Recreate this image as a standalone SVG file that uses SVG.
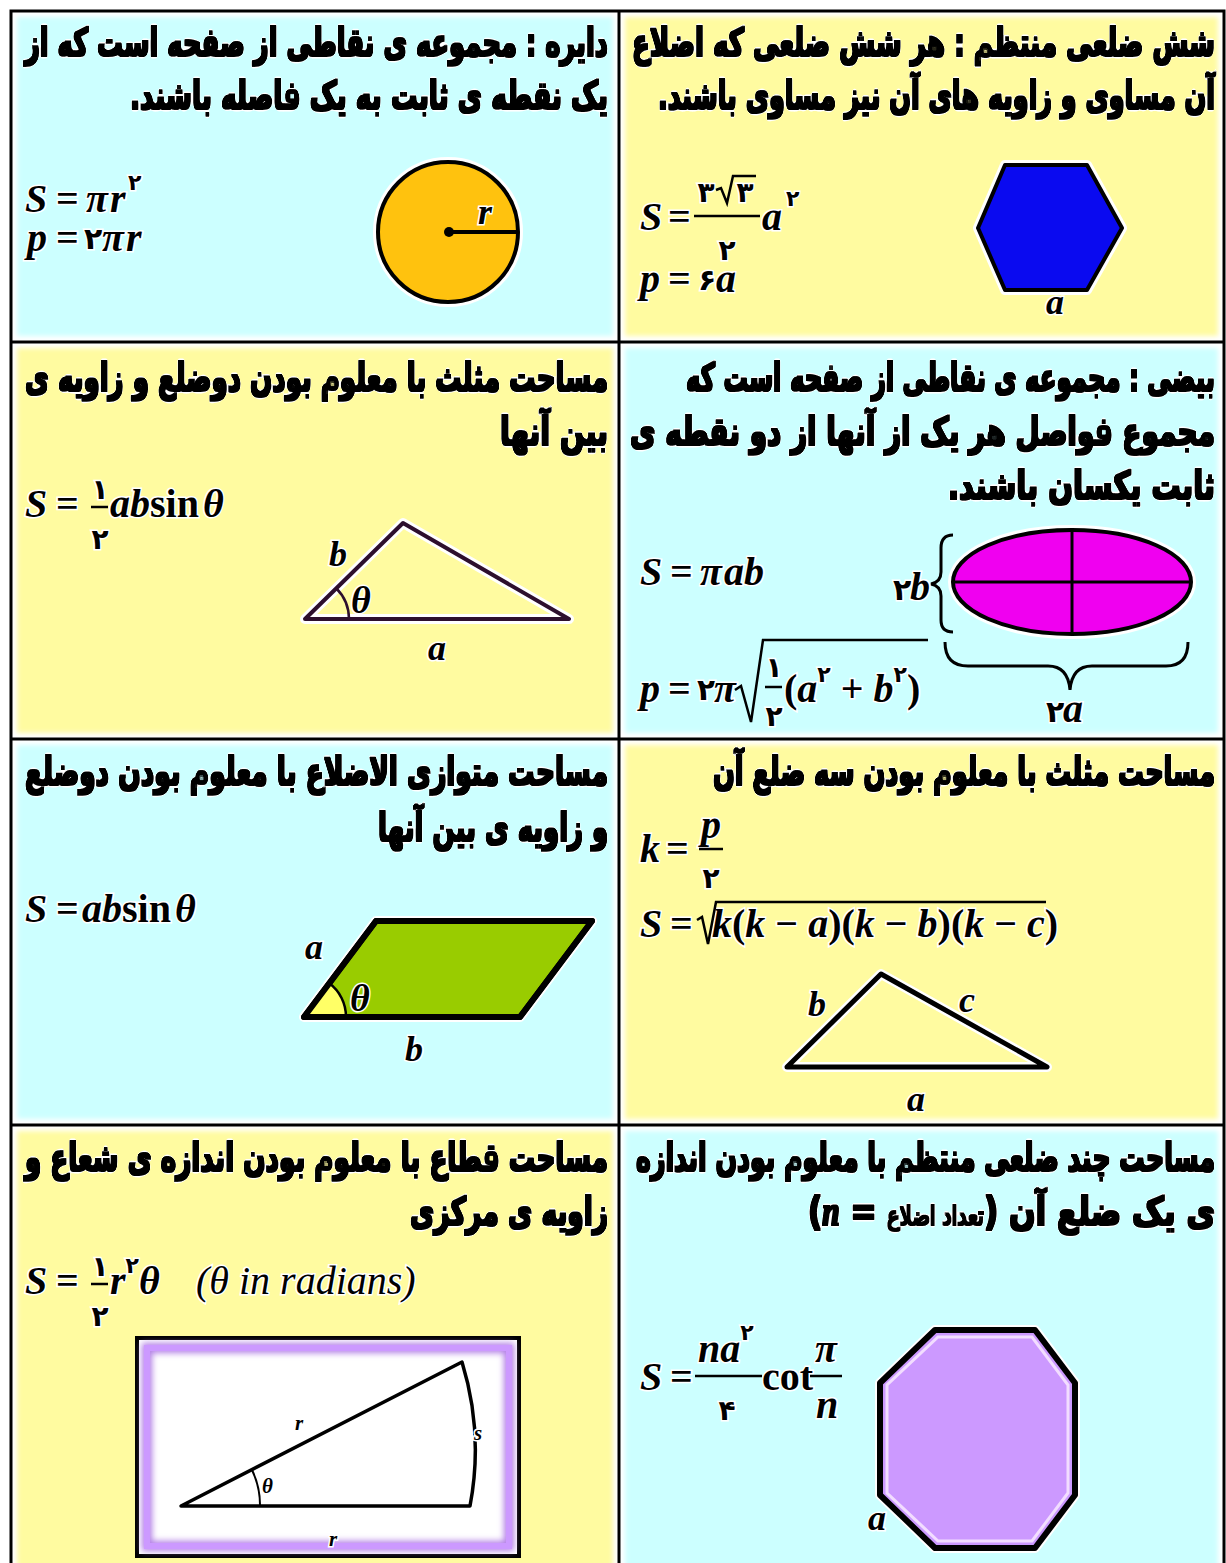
<svg xmlns="http://www.w3.org/2000/svg" width="1226" height="1563" viewBox="0 0 1226 1563">
<defs>
<filter id="soft" x="-5%" y="-5%" width="110%" height="110%"><feGaussianBlur stdDeviation="2.5"/></filter>
<filter id="glow" x="-10%" y="-10%" width="120%" height="120%"><feGaussianBlur stdDeviation="3"/></filter>
<filter id="heavy" x="-5%" y="-30%" width="110%" height="160%"><feMorphology operator="erode" radius="0.8"/></filter>
<style>
.cy{fill:#CCFFFF}
.ye{fill:#FFFBA0}
.t{font-family:"DejaVu Sans",sans-serif;font-weight:bold;font-size:39px;fill:#000;stroke:#fff;stroke-width:7;paint-order:stroke;stroke-linejoin:round;filter:url(#heavy)}
.m{font-family:"Liberation Serif","DejaVu Sans",serif;font-style:italic;font-weight:bold;font-size:40px;fill:#000;stroke:#fff;stroke-width:3;paint-order:stroke}
.lb{font-size:36px}
.th{font-size:38px}
.u{font-style:normal}
.d{font-family:"DejaVu Sans",sans-serif;font-style:normal;font-weight:bold;font-size:28px;text-anchor:middle}
.sp{font-family:"DejaVu Sans",sans-serif;font-style:normal;font-weight:bold;font-size:22px}
.dg{font-family:"DejaVu Sans",sans-serif;font-style:normal;font-weight:bold;font-size:30px}
.tiny{font-size:21px}
.ln{fill:none;stroke:#000;stroke-width:2.5}
.sh{stroke:#000;stroke-linejoin:round}
.halo{fill:none;stroke:#fff;stroke-width:10;stroke-linejoin:round}
.grid{fill:none;stroke:#000;stroke-width:3}
</style>
</defs>
<rect width="1226" height="1563" fill="#fff"/>
<g id="backgrounds" filter="url(#soft)">
<rect class="cy" x="17" y="17" width="596" height="319"/>
<rect class="ye" x="625" y="17" width="593" height="319"/>
<rect class="ye" x="17" y="348" width="596" height="385"/>
<rect class="cy" x="625" y="348" width="593" height="385"/>
<rect class="cy" x="17" y="745" width="596" height="374"/>
<rect class="ye" x="625" y="745" width="593" height="374"/>
<rect class="ye" x="17" y="1131" width="596" height="440"/>
<rect class="cy" x="625" y="1131" width="593" height="440"/>
</g>
<g id="grid">
<rect class="grid" x="11" y="11" width="1213" height="1570"/>
<line class="grid" x1="619" y1="11" x2="619" y2="1563"/>
<line class="grid" x1="11" y1="342" x2="1224" y2="342"/>
<line class="grid" x1="11" y1="739" x2="1224" y2="739"/>
<line class="grid" x1="11" y1="1125" x2="1224" y2="1125"/>
</g>

<g id="circle-cell">
<text class="t" x="608" y="56" direction="rtl" textLength="583" lengthAdjust="spacingAndGlyphs">دایره : مجموعه ی نقاطی از صفحه است که از</text>
<text class="t" x="608" y="109" direction="rtl" textLength="478" lengthAdjust="spacingAndGlyphs">یک نقطه ی ثابت به یک فاصله باشند.</text>
<text class="m" y="212"><tspan x="25">S</tspan><tspan class="u" x="56">=</tspan><tspan x="86">π</tspan><tspan x="110">r</tspan><tspan class="sp" x="128" y="190">۲</tspan></text>
<text class="m" y="251"><tspan x="27">p</tspan><tspan class="u" x="56">=</tspan><tspan class="dg" x="84" y="249">۲</tspan><tspan x="102" y="251">π</tspan><tspan x="126">r</tspan></text>
<circle cx="448" cy="232" r="70" class="halo"/>
<circle cx="448" cy="232" r="70" class="sh" fill="#FFC20E" stroke-width="4"/>
<line x1="448" y1="232" x2="518" y2="232" stroke="#000" stroke-width="4"/>
<circle cx="449" cy="232" r="5" fill="#000"/>
<text class="m lb" x="478" y="224">r</text>
</g>

<g id="hexagon-cell">
<text class="t" x="1215" y="56" direction="rtl" textLength="583" lengthAdjust="spacingAndGlyphs">شش ضلعی منتظم : هر شش ضلعی که اضلاع</text>
<text class="t" x="1215" y="109" direction="rtl" textLength="557" lengthAdjust="spacingAndGlyphs">آن مساوی و زاویه های آن نیز مساوی باشند.</text>
<text class="m" y="230"><tspan x="640">S</tspan><tspan class="u" x="668">=</tspan><tspan x="762">a</tspan><tspan class="sp" x="786" y="206">۲</tspan></text>
<text class="m d" x="706" y="202">۳</text>
<path class="ln" d="M716 190 L721 188 L727 203 L733 176 L756 176"/>
<text class="m d" x="745" y="202">۳</text>
<line x1="694" y1="216" x2="760" y2="216" stroke="#000" stroke-width="2.5"/>
<text class="m d" x="727" y="260">۲</text>
<text class="m" y="292"><tspan x="640">p</tspan><tspan class="u" x="668">=</tspan><tspan class="dg" x="698" y="290">۶</tspan><tspan x="716" y="292">a</tspan></text>
<polygon class="halo" points="1005,165 1087,165 1122,228 1087,290 1005,290 978,228"/>
<polygon class="sh" points="1005,165 1087,165 1122,228 1087,290 1005,290 978,228" fill="#0A0AF0" stroke-width="4"/>
<text class="m lb" x="1046" y="314">a</text>
</g>

<g id="triangle-two-sides-cell">
<text class="t" x="608" y="391" direction="rtl" textLength="583" lengthAdjust="spacingAndGlyphs">مساحت مثلث با معلوم بودن دوضلع و زاویه ی</text>
<text class="t" x="608" y="445" direction="rtl" textLength="108" lengthAdjust="spacingAndGlyphs">بین آنها</text>
<text class="m" y="517"><tspan x="25">S</tspan><tspan class="u" x="56">=</tspan><tspan x="110">ab</tspan><tspan class="u">sin</tspan><tspan dx="4">θ</tspan></text>
<text class="m d" x="100" y="499">۱</text>
<line x1="91" y1="507" x2="108" y2="507" stroke="#000" stroke-width="2.5"/>
<text class="m d" x="100" y="549">۲</text>
<polygon class="halo" points="305,619 403,523 569,619"/>
<polygon points="305,619 403,523 569,619" fill="none" stroke="#2D0F2D" stroke-width="4" stroke-linejoin="round"/>
<path d="M349 619 A44 44 0 0 0 336 588" fill="none" stroke="#2D0F2D" stroke-width="2.5"/>
<text class="m lb" x="329" y="566">b</text>
<text class="m th" x="351" y="613">θ</text>
<text class="m lb" x="428" y="660">a</text>
</g>

<g id="ellipse-cell">
<text class="t" x="1215" y="391" direction="rtl" textLength="529" lengthAdjust="spacingAndGlyphs">بیضی : مجموعه ی نقاطی از صفحه است که</text>
<text class="t" x="1215" y="445" direction="rtl" textLength="585" lengthAdjust="spacingAndGlyphs">مجموع فواصل هر یک از آنها از دو نقطه ی</text>
<text class="t" x="1215" y="499" direction="rtl" textLength="267" lengthAdjust="spacingAndGlyphs">ثابت یکسان باشند.</text>
<text class="m" y="585"><tspan x="640">S</tspan><tspan class="u" x="670">=</tspan><tspan x="700">π</tspan><tspan x="724">ab</tspan></text>
<text class="m" y="702"><tspan x="640">p</tspan><tspan class="u" x="668">=</tspan><tspan class="dg" x="697" y="700">۲</tspan><tspan x="714" y="702">π</tspan></text>
<path class="ln" d="M735 690 L741 686 L751 722 L763 640 L928 640"/>
<text class="m d" x="774" y="677">۱</text>
<line x1="765" y1="687" x2="782" y2="687" stroke="#000" stroke-width="2.5"/>
<text class="m d" x="774" y="726">۲</text>
<text class="m" y="702"><tspan class="u" x="784">(</tspan><tspan>a</tspan><tspan class="sp" dy="-20">۲</tspan><tspan class="u" dy="20"> + </tspan><tspan>b</tspan><tspan class="sp" dy="-20">۲</tspan><tspan class="u" dy="20">)</tspan></text>
<ellipse class="halo" cx="1072" cy="582" rx="119" ry="52"/>
<ellipse cx="1072" cy="582" rx="119" ry="52" fill="#F000F0" class="sh" stroke-width="4"/>
<line x1="1072" y1="530" x2="1072" y2="634" stroke="#000" stroke-width="3"/>
<line x1="953" y1="582" x2="1191" y2="582" stroke="#000" stroke-width="3"/>
<path d="M953 535 Q941 535 941 548 L941 572 Q941 582 931 584 Q941 586 941 596 L941 620 Q941 632 953 632" fill="none" stroke="#000" stroke-width="3"/>
<text class="m" y="600"><tspan class="dg" x="893" y="600">۲</tspan><tspan x="910" y="600">b</tspan></text>
<path d="M945 642 Q945 666 968 666 L1048 666 Q1068 666 1070 690 Q1072 666 1092 666 L1166 666 Q1188 666 1188 642" fill="none" stroke="#000" stroke-width="3"/>
<text class="m" y="722"><tspan class="dg" x="1046" y="722">۲</tspan><tspan x="1063" y="722">a</tspan></text>
</g>

<g id="parallelogram-cell">
<text class="t" x="608" y="785" direction="rtl" textLength="583" lengthAdjust="spacingAndGlyphs">مساحت متوازی الاضلاع با معلوم بودن دوضلع</text>
<text class="t" x="608" y="841" direction="rtl" textLength="230" lengthAdjust="spacingAndGlyphs">و زاویه ی بین آنها</text>
<text class="m" y="922"><tspan x="25">S</tspan><tspan class="u" x="56">=</tspan><tspan x="82">ab</tspan><tspan class="u">sin</tspan><tspan dx="4">θ</tspan></text>
<polygon class="halo" points="304,1017 376,921 592,921 520,1017"/>
<polygon class="sh" points="304,1017 376,921 592,921 520,1017" fill="#99CC00" stroke-width="6"/>
<path d="M304 1017 L346 1017 A42 42 0 0 0 329 983 Z" fill="#FFFF66"/>
<path d="M346 1017 A42 42 0 0 0 329 983" fill="none" stroke="#000" stroke-width="2.5"/>
<polygon points="304,1017 376,921 592,921 520,1017" fill="none" class="sh" stroke-width="6"/>
<text class="m lb" x="305" y="959">a</text>
<text class="m th" x="350" y="1011">θ</text>
<text class="m lb" x="405" y="1061">b</text>
</g>

<g id="triangle-three-sides-cell">
<text class="t" x="1215" y="785" direction="rtl" textLength="502" lengthAdjust="spacingAndGlyphs">مساحت مثلث با معلوم بودن سه ضلع آن</text>
<text class="m" y="862"><tspan x="640">k</tspan><tspan class="u" x="666">=</tspan></text>
<text class="m" x="701" y="838">p</text>
<line x1="699" y1="849" x2="723" y2="849" stroke="#000" stroke-width="2.5"/>
<text class="m d" x="711" y="888">۲</text>
<text class="m" y="937"><tspan x="640">S</tspan><tspan class="u" x="670">=</tspan><tspan x="712">k</tspan><tspan class="u">(</tspan><tspan>k</tspan><tspan class="u"> − </tspan><tspan>a</tspan><tspan class="u">)(</tspan><tspan>k</tspan><tspan class="u"> − </tspan><tspan>b</tspan><tspan class="u">)(</tspan><tspan>k</tspan><tspan class="u"> − </tspan><tspan>c</tspan><tspan class="u">)</tspan></text>
<path class="ln" d="M697 920 L702 917 L708 944 L716 902 L1046 902"/>
<polygon class="halo" points="787,1067 881,974 1047,1067"/>
<polygon points="787,1067 881,974 1047,1067" fill="none" class="sh" stroke-width="5"/>
<text class="m lb" x="808" y="1016">b</text>
<text class="m lb" x="959" y="1012">c</text>
<text class="m lb" x="907" y="1111">a</text>
</g>

<g id="sector-cell">
<text class="t" x="608" y="1171" direction="rtl" textLength="583" lengthAdjust="spacingAndGlyphs">مساحت قطاع با معلوم بودن اندازه ی شعاع و</text>
<text class="t" x="608" y="1225" direction="rtl" textLength="198" lengthAdjust="spacingAndGlyphs">زاویه ی مرکزی</text>
<text class="m" y="1294"><tspan x="25">S</tspan><tspan class="u" x="56">=</tspan><tspan x="110">r</tspan><tspan class="sp" dy="-21">۲</tspan><tspan dy="21">θ</tspan><tspan x="196" font-weight="normal">(θ in  radians)</tspan></text>
<text class="m d" x="100" y="1276">۱</text>
<line x1="91" y1="1284" x2="108" y2="1284" stroke="#000" stroke-width="2.5"/>
<text class="m d" x="100" y="1326">۲</text>
<rect x="137" y="1338" width="382" height="218" fill="#fff" stroke="#000" stroke-width="4"/>
<rect x="147" y="1348" width="362" height="198" fill="none" stroke="#B27FE6" stroke-width="10" filter="url(#glow)"/>
<rect x="147" y="1348" width="362" height="198" fill="none" stroke="#CC99FF" stroke-width="6"/>
<path d="M181 1506 L462 1362 A300 300 0 0 1 470 1506 Z" fill="none" stroke="#000" stroke-width="3.5" stroke-linejoin="round"/>
<path d="M252 1470 A80 80 0 0 1 260 1506" fill="none" stroke="#000" stroke-width="2"/>
<text class="m tiny" x="295" y="1430">r</text>
<text class="m tiny" x="474" y="1440">s</text>
<text class="m tiny" x="262" y="1493">θ</text>
<text class="m tiny" x="329" y="1546">r</text>
</g>

<g id="octagon-cell">
<text class="t" x="1215" y="1171" direction="rtl" textLength="579" lengthAdjust="spacingAndGlyphs">مساحت چند ضلعی منتظم با معلوم بودن اندازه</text>
<text class="t" x="1215" y="1225" direction="rtl" textLength="407" lengthAdjust="spacingAndGlyphs">ی یک ضلع آن (<tspan font-size="26" font-weight="normal">تعداد اضلاع</tspan> = <tspan font-family="Liberation Serif" font-style="italic">n</tspan>)</text>
<text class="m" y="1390"><tspan x="640">S</tspan><tspan class="u" x="670">=</tspan><tspan x="698" y="1362">na</tspan><tspan class="sp" dy="-22">۲</tspan><tspan class="u" x="762" y="1390">cot</tspan><tspan x="815" y="1362">π</tspan><tspan x="816" y="1418">n</tspan></text>
<line x1="695" y1="1376" x2="762" y2="1376" stroke="#000" stroke-width="2.5"/>
<line x1="810" y1="1376" x2="842" y2="1376" stroke="#000" stroke-width="2.5"/>
<text class="m d" x="727" y="1420">۴</text>
<polygon class="halo" points="935,1330 1035,1330 1075,1383 1075,1495 1035,1548 935,1548 880,1495 880,1383"/>
<polygon class="sh" points="935,1330 1035,1330 1075,1383 1075,1495 1035,1548 935,1548 880,1495 880,1383" fill="#CC99FF" stroke-width="6"/>
<polygon points="938,1337 1032,1337 1068,1385 1068,1493 1032,1541 938,1541 887,1493 887,1385" fill="none" stroke="#F2DDFF" stroke-width="3"/>
<text class="m lb" x="868" y="1530">a</text>
</g>
</svg>
